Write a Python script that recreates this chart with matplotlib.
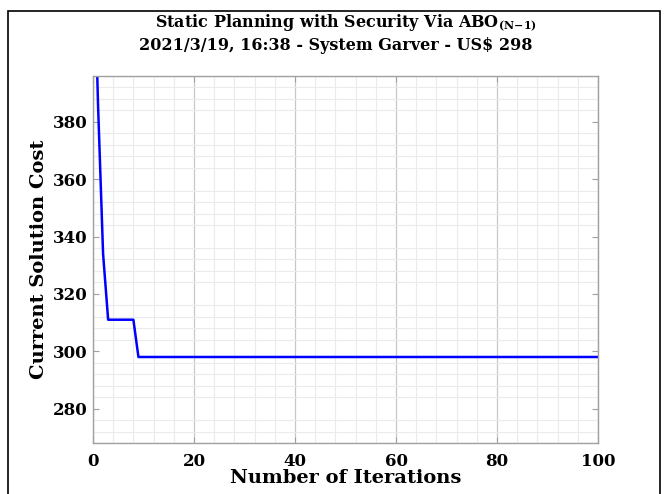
import matplotlib.pyplot as plt
from matplotlib.patches import Rectangle
from matplotlib.ticker import MultipleLocator

plt.rcParams['font.family'] = 'DejaVu Serif'
plt.rcParams['font.weight'] = 'bold'
plt.rcParams['mathtext.fontset'] = 'dejavuserif'

# polyline of the solution cost
iterations = [0, 1, 2, 3, 8, 9, 100]
cost = [452, 386, 334, 311, 311, 298, 298]

x_ticks = [0, 20, 40, 60, 80, 100]
y_ticks = [280, 300, 320, 340, 360, 380]

fig = plt.figure(figsize=(6.67, 4.94), dpi=100)
ax = fig.add_axes([0.1394, 0.1032, 0.7572, 0.743])

# outer black frame around the figure
fig.patches.append(Rectangle((8 / 667, -0.1), 652 / 667, 1.1 - 11.5 / 494,
                             transform=fig.transFigure, fill=False,
                             edgecolor='black', linewidth=1.2))

ax.plot(iterations, cost, color=(0, 0, 1), linewidth=1.8)

ax.set_xlim(0, 100)
ax.set_ylim(268, 396)
ax.set_xticks(x_ticks)
ax.set_yticks(y_ticks)
ax.xaxis.set_minor_locator(MultipleLocator(4))
ax.yaxis.set_minor_locator(MultipleLocator(4))

ax.grid(which='major', axis='x', color='#c8c8c8', linewidth=0.9)
ax.grid(which='minor', color='#ebebeb', linewidth=0.8)
ax.set_axisbelow(True)

for s in ax.spines.values():
    s.set_color('#a0a0a0')
    s.set_linewidth(1.0)

ax.tick_params(which='major', direction='in', length=4, color='#a0a0a0',
               top=True, right=True, labelsize=12, labelcolor='black')
ax.tick_params(axis='x', pad=7)
ax.tick_params(axis='y', pad=4)
ax.tick_params(which='minor', length=0)
for lab in ax.get_xticklabels() + ax.get_yticklabels():
    lab.set_fontweight('bold')

ax.set_xlabel('Number of Iterations', fontsize=14, fontweight='bold')
ax.set_ylabel('Current Solution Cost', fontsize=14, fontweight='bold')
ax.xaxis.set_label_coords(0.5, -0.072)
ax.yaxis.set_label_coords(-0.09, 0.5)

cx = 0.1394 + 0.7572 / 2
fig.text(cx, 1 - 23 / 494, r'Static Planning with Security Via ABO$_{\mathbf{(N{-}1)}}$',
         ha='center', va='center', fontsize=11.5, fontweight='bold')
fig.text(cx - 0.014, 1 - 46 / 494, '2021/3/19, 16:38 - System Garver - US$ 298',
         ha='center', va='center', fontsize=11.5, fontweight='bold')

fig.savefig('out.png', dpi=100)
